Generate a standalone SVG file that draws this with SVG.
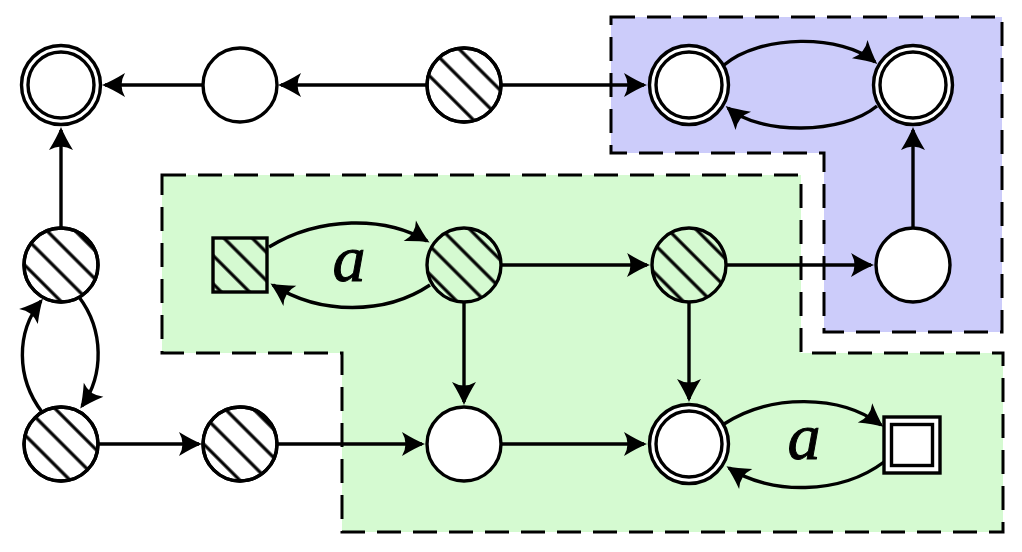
<svg xmlns="http://www.w3.org/2000/svg" width="1022" height="552" viewBox="0 0 1022 552">
<style>
.region{stroke:#000;stroke-width:3;stroke-dasharray:24 12}
.blue{fill:#ccccfa}
.green{fill:#d5fad1}
.edge{fill:none;stroke:#000;stroke-width:3.4;marker-end:url(#ah)}
.n{stroke:#000;stroke-width:3.4;fill:#fff}
.h{stroke:#000;stroke-width:3.4;fill:url(#hatch)}
.lbl{font-family:"Liberation Serif",serif;font-style:italic;font-size:66px;fill:#000;stroke:#000;stroke-width:1}
</style>
<defs>
<pattern id="hatch" patternUnits="userSpaceOnUse" width="20" height="20" patternTransform="rotate(45)">
<line x1="-2" y1="10" x2="22" y2="10" stroke="#000" stroke-width="3.2"/>
</pattern>
<marker id="ah" markerUnits="userSpaceOnUse" markerWidth="40" markerHeight="40" viewBox="-30 -20 40 40" refX="-3" refY="0" orient="auto" overflow="visible">
<path d="M0,0 Q-10,-4 -23,-12 Q-16,0 -23,12 Q-10,4 0,0Z" fill="#000"/>
</marker>
</defs>
<g id="regions">
<path id="blue-region" class="region blue" d="M611,17 L1002,17 L1002,332 L824,332 L824,153 L611,153 Z"/>
<path id="green-region" class="region green" d="M162,175 L801,175 L801,353 L1003,353 L1003,532 L342,532 L342,353 L162,353 Z"/>
</g>
<g id="connectors">
<path class="edge" d="M427,85 L281,85"/>
<path class="edge" d="M203,85 L105,85"/>
<path class="edge" d="M502,85 L644,85"/>
<path class="edge" d="M724,65 C760,34 842,34 875,62"/>
<path class="edge" d="M877,106 C842,135 760,135 728,108"/>
<path class="edge" d="M913,228 L913,130"/>
<path class="edge" d="M61,228 L61,130"/>
<path class="edge" d="M79,297 C104,330 104,375 82,406"/>
<path class="edge" d="M42,412 C16,378 16,332 41,301"/>
<path class="edge" d="M99,444 L199,444"/>
<path class="edge" d="M278,444 L422,444"/>
<path class="edge" d="M502,444 L644,444"/>
<path class="edge" d="M502,265 L647,265"/>
<path class="edge" d="M727,265 L871,265"/>
<path class="edge" d="M464,302 L464,402"/>
<path class="edge" d="M689,302 L689,399"/>
<path class="edge" d="M269,247 C320,216 385,216 427,241"/>
<path class="edge" d="M430,285 C385,315 320,315 273,285"/>
<path class="edge" d="M724,424 C770,394 840,394 881,425"/>
<path class="edge" d="M884,462 C840,495 770,495 729,468"/>
</g>
<g id="labels">
<text class="lbl" x="349" y="281" text-anchor="middle">a</text>
<text class="lbl" x="804" y="459" text-anchor="middle">a</text>
</g>
<g id="A1"><circle class="n" cx="61" cy="85" r="39.5"/><circle class="n" cx="61" cy="85" r="33"/></g>
<g id="A2"><circle class="n" cx="240" cy="85" r="37"/></g>
<g id="A3"><circle class="n" cx="464" cy="85" r="37"/><circle class="h" cx="464" cy="85" r="37"/></g>
<g id="A4"><circle class="n" cx="689" cy="85" r="39.5"/><circle class="n" cx="689" cy="85" r="33"/></g>
<g id="A5"><circle class="n" cx="913" cy="85" r="39.5"/><circle class="n" cx="913" cy="85" r="33"/></g>
<g id="B1"><circle class="n" cx="61" cy="265" r="37"/><circle class="h" cx="61" cy="265" r="37"/></g>
<g id="B2"><rect class="h" x="213" y="238" width="54" height="54"/></g>
<g id="B3"><circle class="h" cx="464" cy="265" r="37"/></g>
<g id="B4"><circle class="h" cx="689" cy="265" r="37"/></g>
<g id="B5"><circle class="n" cx="913" cy="265" r="37"/></g>
<g id="C1"><circle class="n" cx="61" cy="444" r="37"/><circle class="h" cx="61" cy="444" r="37"/></g>
<g id="C2"><circle class="n" cx="240" cy="444" r="37"/><circle class="h" cx="240" cy="444" r="37"/></g>
<g id="C3"><circle class="n" cx="464" cy="444" r="37"/></g>
<g id="C4"><circle class="n" cx="689" cy="444" r="39.5"/><circle class="n" cx="689" cy="444" r="33"/></g>
<g id="C5"><rect class="n" x="884" y="417" width="56" height="56"/><rect class="n" x="891.5" y="424.5" width="41" height="41"/></g>
</svg>
